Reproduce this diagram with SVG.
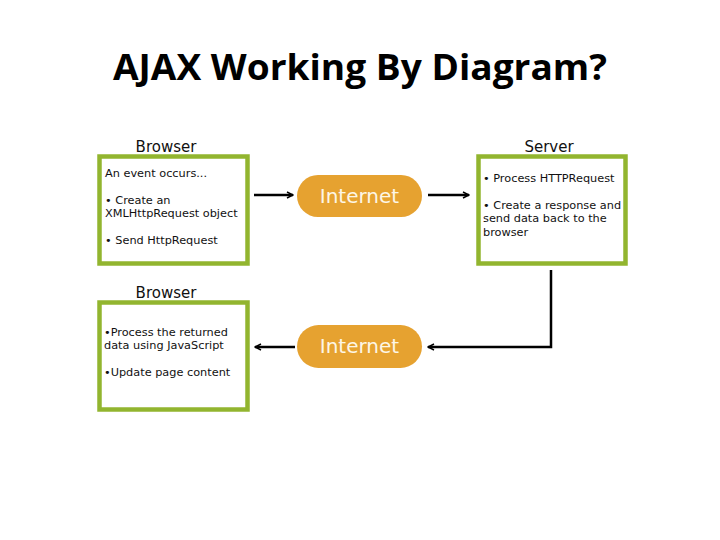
<svg xmlns="http://www.w3.org/2000/svg" width="720" height="540" viewBox="0 0 720 540">
<style>
.box{fill:#fff;stroke:#92b52f;stroke-width:4.5}
.lbl{font-family:"DejaVu Sans",Verdana,sans-serif;font-size:15px;fill:#111;text-anchor:middle}
.t{font-family:"DejaVu Sans",Verdana,sans-serif;font-size:11.3px;fill:#111}
.pill{fill:#e6a230}
.pt{font-family:"DejaVu Sans",Verdana,sans-serif;font-size:20px;fill:#fdf6e6;text-anchor:middle}
.c{fill:none;stroke:#000;stroke-width:2.5}
.title{font-family:"Open Sans","Noto Sans",sans-serif;font-weight:bold;font-size:36px;fill:#000;text-anchor:middle}
</style>
<defs>
<marker id="ah" viewBox="0 0 10 10" refX="9" refY="5" markerWidth="3" markerHeight="3" orient="auto" markerUnits="strokeWidth">
<path d="M1,1 L9,5 L1,9" fill="none" stroke="#000" stroke-width="2"/>
</marker>
</defs>
<rect width="720" height="540" fill="#fff"/>
<text class="title" x="360" y="80" textLength="494" lengthAdjust="spacingAndGlyphs">AJAX Working By Diagram?</text>

<g id="browser1">
<text class="lbl" x="166" y="152">Browser</text>
<rect class="box" x="99.5" y="156.5" width="148" height="107"/>
<text class="t" x="105" y="177">An event occurs...</text>
<text class="t" x="105" y="204">• Create an</text>
<text class="t" x="105" y="217">XMLHttpRequest object</text>
<text class="t" x="105" y="244">• Send HttpRequest</text>
</g>

<g id="internet1">
<rect class="pill" x="297" y="175" width="125" height="42" rx="21"/>
<text class="pt" x="359.5" y="203">Internet</text>
</g>

<g id="server">
<text class="lbl" x="549" y="152">Server</text>
<rect class="box" x="478.5" y="156.5" width="147" height="107"/>
<text class="t" x="483" y="182">• Process HTTPRequest</text>
<text class="t" x="483" y="209">• Create a response and</text>
<text class="t" x="483" y="222">send data back to the</text>
<text class="t" x="483" y="236">browser</text>
</g>

<g id="browser2">
<text class="lbl" x="166" y="298">Browser</text>
<rect class="box" x="99.5" y="302.5" width="148" height="107"/>
<text class="t" x="104" y="336">•Process the returned</text>
<text class="t" x="104" y="349">data using JavaScript</text>
<text class="t" x="104" y="376">•Update page content</text>
</g>

<g id="internet2">
<rect class="pill" x="297" y="325" width="125" height="43" rx="21.5"/>
<text class="pt" x="359.5" y="353">Internet</text>
</g>

<g id="connectors">
<line class="c" x1="254" y1="195" x2="293" y2="195" marker-end="url(#ah)"/>
<line class="c" x1="428" y1="195" x2="469" y2="195" marker-end="url(#ah)"/>
<polyline class="c" points="551,270 551,347 428,347" marker-end="url(#ah)"/>
<line class="c" x1="295" y1="347" x2="255" y2="347" marker-end="url(#ah)"/>
</g>
</svg>
